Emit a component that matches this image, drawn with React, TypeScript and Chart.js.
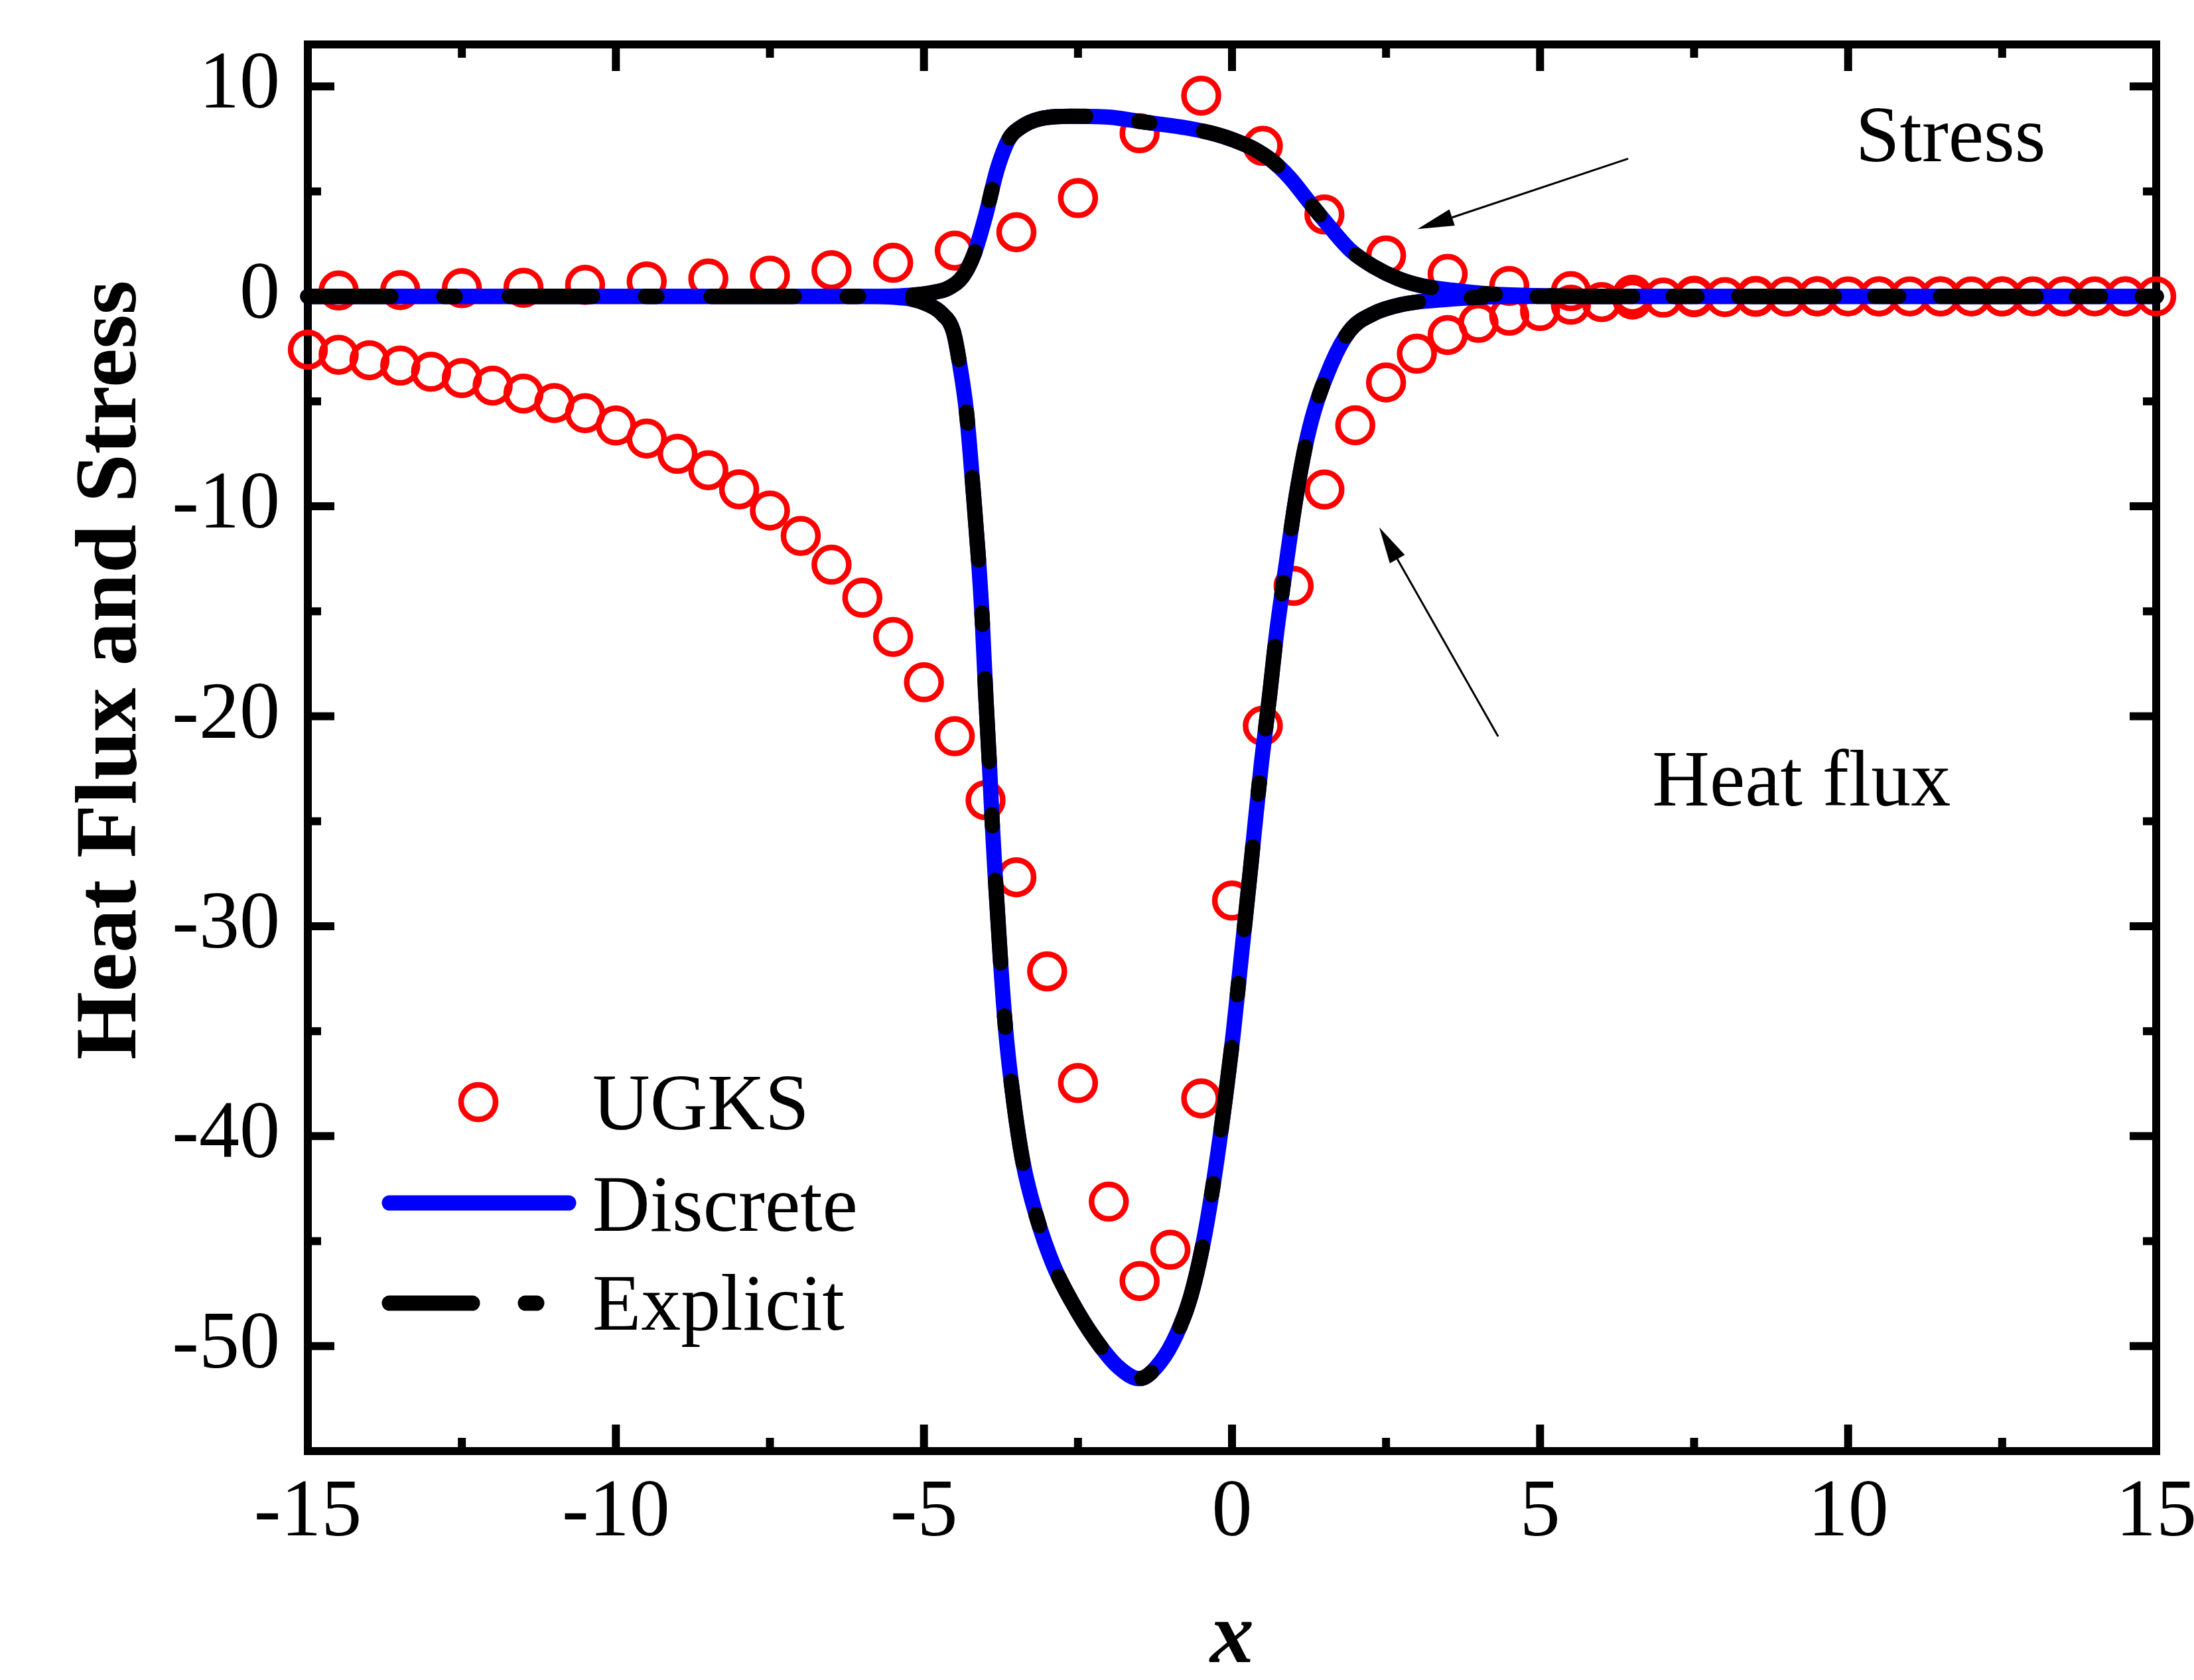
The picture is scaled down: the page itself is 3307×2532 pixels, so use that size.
import React, { useEffect, useRef } from 'react';
import { Chart, registerables } from 'chart.js';

Chart.register(...registerables);

// Discrete / Explicit solutions (both curves coincide)
const stressX = [-15, -10, -6, -5.25, -4.87, -4.6, -4.37, -4.18, -4.0, -3.81, -3.62, -3.43, -3.13, -2.6, -2.0, -1.47, -0.71, -0.26, 0.04, 0.34, 0.65, 0.95, 1.25, 1.56, 1.93, 2.31, 2.69, 3.07, 3.59, 4.2, 4.96, 6, 10, 15];
const stressY = [0, 0, 0, 0.05, 0.18, 0.4, 0.95, 2.06, 3.84, 6.06, 7.5, 8.05, 8.45, 8.58, 8.54, 8.32, 8.01, 7.72, 7.43, 7.05, 6.46, 5.61, 4.5, 3.4, 2.18, 1.4, 0.85, 0.51, 0.29, 0.11, 0.04, 0, 0, 0];

const fluxX = [-15, -10, -6, -5.24, -4.94, -4.71, -4.52, -4.42, -4.31, -4.2, -4.12, -4.055, -3.995, -3.94, -3.89, -3.85, -3.756, -3.671, -3.543, -3.393, -3.165, -2.901, -2.599, -2.22, -1.844, -1.504, -1.164, -0.9, -0.673, -0.462, -0.296, -0.106, 0.023, 0.126, 0.245, 0.312, 0.373, 0.481, 0.606, 0.721, 0.864, 1.055, 1.259, 1.611, 1.92, 2.29, 2.75, 3.42, 4.58, 10, 15];
const fluxY = [0, 0, 0, -0.11, -0.38, -0.82, -1.71, -3.23, -5.5, -9.28, -12.31, -15.33, -19.11, -22.14, -25.16, -27.27, -31.71, -35.03, -38.36, -41.24, -43.9, -46.12, -47.89, -49.67, -51.0, -51.55, -50.77, -49.44, -47.66, -45.0, -42.12, -38.13, -35.03, -32.15, -28.82, -26.94, -25.16, -22.14, -19.11, -16.09, -13.06, -9.28, -6.26, -3.23, -1.6, -0.83, -0.39, -0.16, 0, 0, 0];

// UGKS samples
const ugksStressX = [-14.5, -13.5, -12.5, -11.5, -10.5, -9.5, -8.5, -7.5, -6.5, -5.5, -4.5, -3.5, -2.5, -1.5, -0.5, 0.5, 1.5, 2.5, 3.5, 4.5, 5.5, 6.5, 7.5, 8.5, 9.5, 10.5, 11.5, 12.5, 13.5, 14.5];
const ugksStressY = [0.28, 0.3, 0.39, 0.41, 0.55, 0.71, 0.85, 0.99, 1.25, 1.6, 2.18, 3.06, 4.68, 7.77, 9.56, 7.17, 3.9, 1.95, 1.07, 0.5, 0.25, 0.08, 0.03, 0.02, 0.01, 0, 0, 0, 0, 0];

const ugksFluxX = [-15, -14.5, -14, -13.5, -13, -12.5, -12, -11.5, -11, -10.5, -10, -9.5, -9, -8.5, -8, -7.5, -7, -6.5, -6, -5.5, -5, -4.5, -4, -3.5, -3, -2.5, -2, -1.5, -1, -0.5, 0, 0.5, 1, 1.5, 2, 2.5, 3, 3.5, 4, 4.5, 5, 5.5, 6, 6.5, 7, 7.5, 8, 8.5, 9, 9.5, 10, 10.5, 11, 11.5, 12, 12.5, 13, 13.5, 14, 14.5, 15];
const ugksFluxY = [-2.54, -2.78, -3.04, -3.3, -3.59, -3.89, -4.25, -4.63, -5.08, -5.56, -6.15, -6.77, -7.5, -8.28, -9.19, -10.2, -11.41, -12.78, -14.35, -16.22, -18.38, -20.95, -24.0, -27.67, -32.15, -37.47, -43.12, -46.9, -45.41, -38.2, -28.78, -20.45, -13.79, -9.2, -6.14, -4.1, -2.73, -1.84, -1.26, -0.92, -0.7, -0.4, -0.27, -0.15, -0.06, -0.04, -0.03, -0.02, -0.01, 0, 0, 0, 0, 0, 0, 0, 0, 0, 0, 0, 0];

const xTicks = [-15, -10, -5, 0, 5, 10, 15];
const xMinorTicks = [-12.5, -7.5, -2.5, 2.5, 7.5, 12.5];
const yTicks = [-50, -40, -30, -20, -10, 0, 10];
const yMinorTicks = [-45, -35, -25, -15, -5, 5];

const legendLabels = ['UGKS', 'Discrete', 'Explicit'];
const yTitle = 'Heat Flux and Stress';
const xTitle = 'x';

const SERIF = '"Liberation Serif", "Times New Roman", serif';
const RED = '#ff0000';
const BLUE = '#0000ff';
const DASH = [125, 80, 17, 82];

const pts = (xs: number[], ys: number[]) => xs.map((x, i) => ({ x, y: ys[i] }));

const framePlugin = {
  id: 'frame',
  beforeDatasetsDraw(chart: any) {
    const { ctx, chartArea: a, scales } = chart;
    const xs = scales.x;
    const ys = scales.y;
    ctx.save();
    ctx.strokeStyle = '#000';
    ctx.lineWidth = 12;
    ctx.lineCap = 'butt';
    const seg = (x1: number, y1: number, x2: number, y2: number) => {
      ctx.beginPath();
      ctx.moveTo(x1, y1);
      ctx.lineTo(x2, y2);
      ctx.stroke();
    };
    const drawX = (vals: number[], len: number) => vals.forEach((v) => {
      const p = xs.getPixelForValue(v);
      seg(p, a.bottom, p, a.bottom - len);
      seg(p, a.top, p, a.top + len);
    });
    const drawY = (vals: number[], len: number) => vals.forEach((v) => {
      const p = ys.getPixelForValue(v);
      seg(a.left, p, a.left + len, p);
      seg(a.right, p, a.right - len, p);
    });
    drawX(xTicks, 40);
    drawX(xMinorTicks, 20);
    drawY(yTicks, 40);
    drawY(yMinorTicks, 20);
    ctx.lineJoin = 'miter';
    ctx.strokeRect(a.left, a.top, a.right - a.left, a.bottom - a.top);
    ctx.restore();
  },
  afterDraw(chart: any) {
    const { ctx, scales } = chart;
    const xs = scales.x;
    const ys = scales.y;
    const px = (v: number) => xs.getPixelForValue(v);
    const py = (v: number) => ys.getPixelForValue(v);
    ctx.save();
    ctx.fillStyle = '#000';
    ctx.strokeStyle = '#000';

    // axis titles
    ctx.font = `bold 132px ${SERIF}`;
    ctx.textAlign = 'center';
    ctx.textBaseline = 'alphabetic';
    ctx.save();
    ctx.translate(204, 1010);
    ctx.rotate(-Math.PI / 2);
    ctx.fillText(yTitle, 0, 0);
    ctx.restore();
    ctx.font = `italic bold 132px ${SERIF}`;
    ctx.fillText(xTitle, (chart.chartArea.left + chart.chartArea.right) / 2, 2505);

    // annotations
    const arrow = (x1: number, y1: number, x2: number, y2: number) => {
      const ang = Math.atan2(y2 - y1, x2 - x1);
      const hl = 55;
      const hw = 13;
      const bx = x2 - hl * Math.cos(ang);
      const by = y2 - hl * Math.sin(ang);
      ctx.lineWidth = 3;
      ctx.beginPath();
      ctx.moveTo(x1, y1);
      ctx.lineTo(bx, by);
      ctx.stroke();
      ctx.beginPath();
      ctx.moveTo(x2, y2);
      ctx.lineTo(bx + hw * Math.sin(ang), by - hw * Math.cos(ang));
      ctx.lineTo(bx - hw * Math.sin(ang), by + hw * Math.cos(ang));
      ctx.closePath();
      ctx.fill();
    };
    arrow(px(6.43), py(6.56), px(3.01), py(3.21));
    arrow(px(4.32), py(-20.96), px(2.39), py(-11.0));
    ctx.font = `120px ${SERIF}`;
    ctx.textAlign = 'left';
    ctx.fillText('Stress', px(10.12), py(6.43));
    ctx.fillText('Heat flux', px(6.82), py(-24.25));

    // legend
    ctx.strokeStyle = RED;
    ctx.lineWidth = 8.5;
    ctx.beginPath();
    ctx.arc(721, 1661, 26, 0, Math.PI * 2);
    ctx.stroke();
    ctx.lineCap = 'round';
    ctx.lineWidth = 23;
    ctx.strokeStyle = BLUE;
    ctx.beginPath();
    ctx.moveTo(587, 1813);
    ctx.lineTo(857, 1813);
    ctx.stroke();
    ctx.strokeStyle = '#000';
    ctx.setLineDash(DASH);
    ctx.beginPath();
    ctx.moveTo(587, 1964);
    ctx.lineTo(815, 1964);
    ctx.stroke();
    ctx.setLineDash([]);
    ctx.fillStyle = '#000';
    ctx.fillText(legendLabels[0], 893, 1702);
    ctx.fillText(legendLabels[1], 893, 1855);
    ctx.fillText(legendLabels[2], 893, 2004);
    ctx.restore();
  },
};

const App: React.FC = () => {
  const canvasRef = useRef<HTMLCanvasElement>(null);
  const chartRef = useRef<Chart | null>(null);

  useEffect(() => {
    document.body.style.margin = '0';
    document.body.style.overflow = 'hidden';
    if (!canvasRef.current) return;
    if (chartRef.current) chartRef.current.destroy();

    const lineBase = {
      pointRadius: 0,
      pointHoverRadius: 0,
      cubicInterpolationMode: 'monotone' as const,
      borderCapStyle: 'round' as const,
      borderJoinStyle: 'round' as const,
      borderWidth: 23,
      fill: false,
      clip: false as const,
    };
    const ugksBase = {
      showLine: false,
      pointStyle: 'circle' as const,
      pointRadius: 26,
      pointHoverRadius: 26,
      pointBorderWidth: 8.5,
      pointBorderColor: RED,
      pointBackgroundColor: 'rgba(0,0,0,0)',
      borderColor: RED,
      clip: false as const,
    };
    const tickFont = { family: SERIF, size: 122 };

    chartRef.current = new Chart(canvasRef.current, {
      type: 'line',
      data: {
        datasets: [
          { ...lineBase, label: 'Explicit stress', data: pts(stressX, stressY), borderColor: '#000', borderDash: DASH },
          { ...lineBase, label: 'Explicit heat flux', data: pts(fluxX, fluxY), borderColor: '#000', borderDash: DASH },
          { ...lineBase, label: 'Discrete stress', data: pts(stressX, stressY), borderColor: BLUE },
          { ...lineBase, label: 'Discrete heat flux', data: pts(fluxX, fluxY), borderColor: BLUE },
          { ...ugksBase, label: 'UGKS stress', data: pts(ugksStressX, ugksStressY) },
          { ...ugksBase, label: 'UGKS heat flux', data: pts(ugksFluxX, ugksFluxY) },
        ],
      },
      options: {
        animation: false,
        responsive: false,
        devicePixelRatio: 1,
        events: [],
        layout: { autoPadding: false, padding: { top: 67, right: 57, left: 0, bottom: 0 } },
        plugins: { legend: { display: false }, tooltip: { enabled: false } },
        scales: {
          x: {
            type: 'linear',
            min: -15,
            max: 15,
            grid: { display: false, drawTicks: false },
            border: { display: false },
            afterBuildTicks: (s: any) => { s.ticks = xTicks.map((value) => ({ value })); },
            afterFit: (s: any) => { s.height = 345; s.paddingLeft = 0; s.paddingRight = 0; },
            ticks: { font: tickFont, color: '#000', padding: 22, maxRotation: 0, autoSkip: false, callback: (v: any) => String(v) },
          },
          y: {
            type: 'linear',
            min: -55,
            max: 12,
            grid: { display: false, drawTicks: false },
            border: { display: false },
            afterBuildTicks: (s: any) => { s.ticks = yTicks.map((value) => ({ value })); },
            afterFit: (s: any) => { s.width = 464; s.paddingTop = 0; s.paddingBottom = 0; },
            ticks: { font: tickFont, color: '#000', padding: 42, autoSkip: false, callback: (v: any) => String(v) },
          },
        },
      },
      plugins: [framePlugin],
    });

    return () => {
      if (chartRef.current) {
        chartRef.current.destroy();
        chartRef.current = null;
      }
    };
  }, []);

  return (
    <div style={{ width: 3307, height: 2532, background: '#fff' }}>
      <canvas ref={canvasRef} width={3307} height={2532} style={{ display: 'block' }} />
    </div>
  );
};

export default App;
